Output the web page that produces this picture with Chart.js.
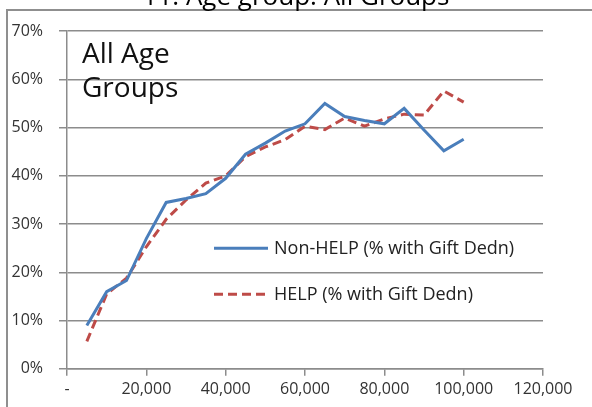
<!DOCTYPE html>
<html>
<head>
<meta charset="utf-8">
<script src="https://cdn.jsdelivr.net/npm/chart.js@4/dist/chart.umd.min.js"></script>
<style>
  html, body { margin: 0; padding: 0; background: #fff; }
  #page { position: relative; width: 592px; height: 407px; overflow: hidden; }
  #frame { position: absolute; left: 6px; top: 9px; width: 620px; height: 440px; border: 2px solid #8f8f8f; box-sizing: border-box; }
  #box { position: absolute; left: 0; top: -18px; width: 592px; height: 421px; }
</style>
</head>
<body>
<div id="page">
  <div id="frame"></div>
  <div id="box"><canvas id="myChart"></canvas></div>
</div>
<script>
// income band midpoints ($)
const incomes = [5000, 10000, 15000, 20000, 25000, 30000, 35000, 40000, 45000, 50000,
  55000, 60000, 65000, 70000, 75000, 80000, 85000, 90000, 95000, 100000];

// share of people claiming a gift deduction (%)
const nonHelp = [9, 16, 18.3, 27, 34.5, 35.3, 36.3, 39.5, 44.5, 46.8,
  49.3, 50.8, 55, 52.3, 51.5, 50.8, 54, 49.5, 45.2, 47.6];
const help = [5.7, 15.5, 18.8, 25.3, 31, 35, 38.5, 40, 44, 46,
  47.5, 50.3, 49.6, 52, 50.3, 51.8, 52.8, 52.6, 57.6, 55.3];

const xTickLabels = ['-', '20,000', '40,000', '60,000', '80,000', '100,000', '120,000'];
const yTickLabels = ['0%', '10%', '20%', '30%', '40%', '50%', '60%', '70%'];

const chartTitle = '11. Age group: All Groups';
const panelLines = ['All Age', 'Groups'];

const fontName = '"Open Sans", sans-serif';
const gridGray = '#8c8c8c';

// big panel caption plus the little legend that sits inside the plot
const insideText = {
  id: 'insideText',
  afterDatasetsDraw(chart) {
    const { ctx, chartArea } = chart;
    ctx.save();
    ctx.fillStyle = '#111';
    ctx.textBaseline = 'alphabetic';
    ctx.font = '28px ' + fontName;
    ctx.fillText(panelLines[0], chartArea.left + 15, chartArea.top + 32);
    ctx.fillText(panelLines[1], chartArea.left + 15, chartArea.top + 66);

    chart.data.datasets.forEach((ds, i) => {
      const y = chartArea.top + 217 + i * 46;
      const x0 = chartArea.left + 147;
      ctx.strokeStyle = ds.borderColor;
      ctx.lineWidth = ds.borderWidth;
      ctx.setLineDash(ds.borderDash || []);
      ctx.beginPath();
      ctx.moveTo(x0, y);
      ctx.lineTo(x0 + 54, y);
      ctx.stroke();
      ctx.setLineDash([]);
      ctx.font = '18px ' + fontName;
      ctx.textBaseline = 'middle';
      ctx.fillStyle = '#222';
      ctx.fillText(ds.label, x0 + 60, y + 1);
    });
    ctx.restore();
  }
};

const context = document.getElementById('myChart').getContext('2d');
const myChart = new Chart(context, {
  type: 'line',
  data: {
    datasets: [
      {
        label: 'Non-HELP (% with Gift Dedn)',
        data: incomes.map((x, i) => ({ x: x, y: nonHelp[i] })),
        borderColor: '#4a7ebb',
        backgroundColor: '#4a7ebb',
        borderWidth: 3,
        pointRadius: 0,
        fill: false,
        tension: 0
      },
      {
        label: 'HELP (% with Gift Dedn)',
        data: incomes.map((x, i) => ({ x: x, y: help[i] })),
        borderColor: '#be4b48',
        backgroundColor: '#be4b48',
        borderWidth: 3,
        borderDash: [9, 5],
        pointRadius: 0,
        fill: false,
        tension: 0
      }
    ]
  },
  options: {
    responsive: true,
    maintainAspectRatio: false,
    animation: false,
    devicePixelRatio: 1,
    layout: { padding: 0 },
    scales: {
      x: {
        type: 'linear',
        min: 0,
        max: 120000,
        afterBuildTicks: (axis) => {
          axis.ticks = xTickLabels.map((t, i) => ({ value: i * 20000 }));
        },
        // leave room on the right for the last label
        afterFit: (axis) => { axis.paddingRight = 49; },
        ticks: {
          autoSkip: false,
          maxRotation: 0,
          padding: 4,
          color: '#333',
          font: { family: fontName, size: 16 },
          callback: (v, i) => xTickLabels[i]
        },
        grid: { drawOnChartArea: false, drawTicks: true, tickLength: 7, color: gridGray, lineWidth: 1.5 },
        border: { display: true, color: gridGray, width: 1.5 }
      },
      y: {
        min: 0,
        max: 70,
        afterBuildTicks: (axis) => {
          axis.ticks = yTickLabels.map((t, i) => ({ value: i * 10 }));
        },
        afterFit: (axis) => { axis.width = 67; },
        ticks: {
          padding: 16,
          color: '#333',
          font: { family: fontName, size: 16 },
          callback: (v, i) => yTickLabels[i]
        },
        grid: { color: gridGray, lineWidth: 1.5, tickLength: 8 },
        border: { display: true, color: gridGray, width: 1.5 }
      }
    },
    plugins: {
      legend: { display: false },
      tooltip: { enabled: false },
      title: {
        display: true,
        text: chartTitle,
        color: '#000',
        font: { family: fontName, size: 26, weight: 'normal' },
        padding: { top: 0, bottom: 18 }
      }
    }
  },
  plugins: [insideText]
});
</script>
</body>
</html>
